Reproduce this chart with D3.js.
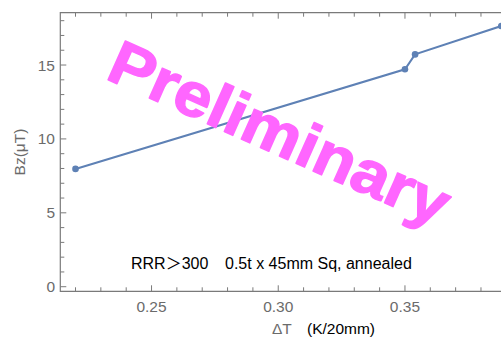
<!DOCTYPE html>
<html>
<head>
<meta charset="utf-8">
<script src="https://cdn.jsdelivr.net/npm/d3@7"></script>
<style>
  body { margin: 0; background: #fff; }
  svg { display: block; }
</style>
</head>
<body>
<div id="chart"></div>
<script>
// data
const deltaT = [0.22, 0.35, 0.354, 0.388];
const bz = [7.97, 14.71, 15.72, 17.64];
const xTicks = [0.25, 0.30, 0.35];
const yTicks = [0, 5, 10, 15];

const W = 501, H = 340;
const m = { left: 60.3, right: 501, top: 12.7, bottom: 291.3 };
const lineColor = "#5e81b5";
const axisColor = "#7a7a7a";
const labelColor = "#6b6b6b";
const font = "Liberation Sans, Arial, sans-serif";

const svg = d3.select("#chart").append("svg")
  .attr("width", W).attr("height", H);

const x = d3.scaleLinear().domain([0.214, 0.3879]).range([m.left, m.right]);
const y = d3.scaleLinear().domain([-0.31, 18.54]).range([m.bottom, m.top]);

// minor ticks
const xMinor = d3.range(0.22, 0.39, 0.01);
const yMinor = d3.range(0, 19, 1);

const frame = svg.append("g");

// frame lines (left, top, bottom)
frame.append("path")
  .attr("d", `M${m.right + 5},${m.top}H${m.left}V${m.bottom}H${m.right + 5}`)
  .attr("fill", "none")
  .attr("stroke", axisColor)
  .attr("stroke-width", 1.2);

function isMajor(v, list) { return list.some(t => Math.abs(t - v) < 1e-6); }

// x ticks bottom + top, pointing inward
xMinor.forEach(v => {
  const len = isMajor(v, xTicks) ? 6 : 4;
  const px = x(v);
  frame.append("line")
    .attr("x1", px).attr("x2", px).attr("y1", m.bottom).attr("y2", m.bottom - len)
    .attr("stroke", axisColor).attr("stroke-width", 1);
  frame.append("line")
    .attr("x1", px).attr("x2", px).attr("y1", m.top).attr("y2", m.top + len)
    .attr("stroke", axisColor).attr("stroke-width", 1);
});

// y ticks left, pointing inward
yMinor.forEach(v => {
  const len = isMajor(v, yTicks) ? 6 : 4;
  const py = y(v);
  frame.append("line")
    .attr("x1", m.left).attr("x2", m.left + len).attr("y1", py).attr("y2", py)
    .attr("stroke", axisColor).attr("stroke-width", 1);
});

// tick labels
svg.append("g").selectAll("text").data(xTicks).join("text")
  .attr("x", d => x(d)).attr("y", 311.5)
  .attr("text-anchor", "middle")
  .attr("font-family", font)
  .attr("font-size", 15.5)
  .attr("fill", labelColor)
  .text(d => d3.format(".2f")(d));

svg.append("g").selectAll("text").data(yTicks).join("text")
  .attr("x", 55).attr("y", d => y(d) + 5.5)
  .attr("text-anchor", "end")
  .attr("font-family", font)
  .attr("font-size", 15.5)
  .attr("fill", labelColor)
  .text(d => d);

// axis labels
svg.append("text")
  .attr("transform", "translate(25,152) rotate(-90)")
  .attr("text-anchor", "middle")
  .attr("font-family", font)
  .attr("font-size", 15.5)
  .attr("fill", labelColor)
  .text("Bz(μT)");

const xl = svg.append("text")
  .attr("x", 272).attr("y", 334)
  .attr("font-family", font)
  .attr("font-size", 15.5);
xl.append("tspan").attr("fill", labelColor).text("ΔT");
xl.append("tspan").attr("fill", "#000").attr("x", 307).text("(K/20mm)");

// plot area clip
svg.append("clipPath").attr("id", "clip")
  .append("rect").attr("x", m.left).attr("y", m.top)
  .attr("width", m.right - m.left + 10).attr("height", m.bottom - m.top);

const pts = deltaT.map((d, i) => ({ x: d, y: bz[i] }));
const plot = svg.append("g").attr("clip-path", "url(#clip)");

const line = d3.line().x(d => x(d.x)).y(d => y(d.y));
plot.append("path")
  .datum(pts)
  .attr("fill", "none")
  .attr("stroke", lineColor)
  .attr("stroke-width", 2)
  .attr("d", line);

plot.selectAll("circle").data(pts).join("circle")
  .attr("cx", d => x(d.x)).attr("cy", d => y(d.y))
  .attr("r", 3.3)
  .attr("fill", lineColor);

// annotation
const note = svg.append("text")
  .attr("y", 269)
  .attr("font-family", font)
  .attr("font-size", 16)
  .attr("fill", "#000");
note.append("tspan").attr("x", 131).text("RRR");
note.append("tspan").attr("font-family", "Noto Sans CJK JP").text("＞");
note.append("tspan").text("300");
note.append("tspan").attr("x", 225).text("0.5t x 45mm Sq, annealed");

// watermark
svg.append("text")
  .attr("transform", "translate(104,78) rotate(24)")
  .attr("font-family", font)
  .attr("font-weight", "bold")
  .attr("font-size", 62)
  .attr("fill", "#ff66ff")
  .attr("stroke", "#ff66ff")
  .attr("stroke-width", 1.4)
  .attr("stroke-linejoin", "round")
  .attr("textLength", 366)
  .attr("lengthAdjust", "spacingAndGlyphs")
  .text("Preliminary");
</script>
</body>
</html>
